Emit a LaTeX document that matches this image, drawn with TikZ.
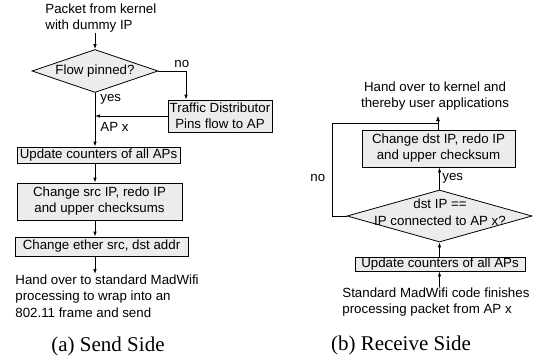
\documentclass[tikz,border=0pt]{standalone}
\usepackage{fontspec}
\setmainfont{Liberation Serif}
\setsansfont{Liberation Sans}
\usetikzlibrary{shapes.geometric,arrows.meta}

\tikzset{
    box/.style={draw, fill=gray!15, inner sep=0pt, align=center, font=\sffamily\fontsize{13.3}{16}\selectfont},
    decision/.style={diamond, draw, fill=gray!15, inner sep=0pt},
    txt/.style={inner sep=0pt, align=left, font=\sffamily\fontsize{13.3}{16.5}\selectfont},
    caption/.style={inner sep=0pt, font=\fontsize{21}{24}\selectfont},
    arr/.style={-{Latex[length=5pt,width=3.5pt]}}
}

\begin{document}
\begin{tikzpicture}[x=1pt, y=-1pt, line width=0.8pt]
    \useasboundingbox (0,0) rectangle (535,360);

    \node[txt, anchor=north west] (kernel) at (45,3) {Packet from kernel\\with dummy IP};
    \node[decision, minimum width=126pt, minimum height=43pt] (pinned) at (95,71) {};
    \node[txt] (pinnedt) at (pinned.center) {Flow pinned?};
    \node[box, minimum width=104pt, minimum height=32pt] (distr) at (220,116) {Traffic Distributor\\Pins flow to AP};
    \node[box, minimum width=163pt, minimum height=16pt] (cnt) at (98.5,155) {Update counters of all APs};
    \node[box, minimum width=165pt, minimum height=37pt] (src) at (99.5,201.5) {Change src IP, redo IP\\and upper checksums};
    \node[box, minimum width=173pt, minimum height=19pt] (ether) at (101.5,246.5) {Change ether src, dst addr};
    \node[txt, anchor=north west] (madwifi) at (15,274) {Hand over to standard MadWifi\\processing to wrap into an\\802.11 frame and send};
    \coordinate (nox) at (186,0);

    \draw[arr] (kernel.south -| pinned.north) -- (pinned.north);
    \draw[arr] (pinned.east) -| (distr.north -| nox);
    \draw[arr] (pinned.south) -- (pinned.south |- cnt.north);
    \draw[arr] (distr.west) -- (distr.west -| pinned.south);
    \draw[arr] (cnt.south -| pinned.south) -- (src.north -| pinned.south);
    \draw[arr] (src.south -| pinned.south) -- (ether.north -| pinned.south);
    \draw[arr] (ether.south -| pinned.south) -- (madwifi.north -| pinned.south);

    \node[txt, anchor=west] (nol) at (174,64) {no};
    \node[txt, anchor=west] (yesl) at (100,99) {yes};
    \node[txt, anchor=west] (apx) at (100,127) {AP x};
    \node[caption] (capa) at (108,346) {(a) Send Side};

    \node[txt, align=center] (user) at (435,96) {Hand over to kernel and\\thereby user applications};
    \node[box, minimum width=153pt, minimum height=37pt] (dst) at (438.5,148.5) {Change dst IP, redo IP\\and upper checksum};
    \node[decision, minimum width=185pt, minimum height=52pt] (match) at (439.5,216) {};
    \node[txt, align=center] (matcht) at (440,212) {dst IP ==\\IP connected to AP x?};
    \node[box, minimum width=170pt, minimum height=14pt] (cntr) at (440,264) {Update counters of all APs};
    \node[txt, anchor=north west] (finish) at (342,287) {Standard MadWifi code finishes\\processing packet from AP x};
    \coordinate (top) at (438,116);
    \coordinate (loop) at (332,123);

    \draw[arr] (finish.north -| match.south) -- (cntr.south -| match.south);
    \draw[arr] (cntr.north -| match.south) -- (match.south);
    \draw[arr] (match.north) -- (dst.south -| match.north);
    \draw[arr] (dst.north -| top) -- (top);
    \draw[arr] (match.west) -| (loop) -| (top);

    \node[txt, anchor=west] (nor) at (310,178) {no};
    \node[txt, anchor=west] (yesr) at (442,178) {yes};
    \node[caption] (capb) at (401,345) {(b) Receive Side};
\end{tikzpicture}
\end{document}
